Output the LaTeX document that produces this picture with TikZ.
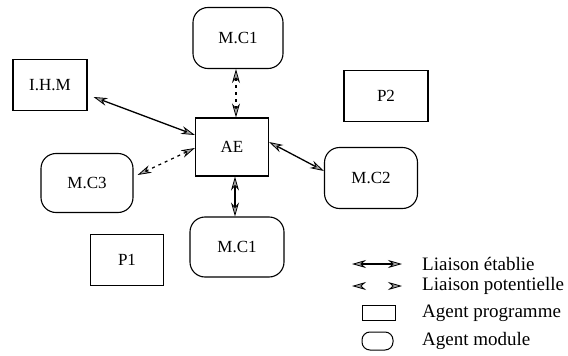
\documentclass[tikz,border=0pt]{standalone}
\usepackage{fontspec}
\setmainfont{Liberation Serif}
\usetikzlibrary{arrows.meta}
\begin{document}
\begin{tikzpicture}[x=1pt,y=-1pt,
  txt/.style={font=\fontsize{17}{19}\selectfont},
  progbox/.style={draw, line width=1.1pt, txt, inner sep=0pt},
  modbox/.style={draw, line width=1.1pt, rounded corners=15pt, txt, inner sep=0pt},
  headtip/.tip={Stealth[length=14pt,width=8pt,fill=gray!70,line width=0.8pt]},
  link/.style={line width=1.3pt, headtip-headtip},
  solidlink/.style={link},
  potlink/.style={link, line width=1.2pt, dash pattern=on 3pt off 4pt},
  legtxt/.style={font=\fontsize{19}{21}\selectfont, anchor=west, inner sep=0pt}
]
\useasboundingbox (0,0) rectangle (568,356);

% agents
\node[modbox, minimum width=90pt, minimum height=61pt] (mc1a) at (238,38) {M.C1};
\node[progbox, minimum width=74pt, minimum height=51pt] (ihm) at (50,85) {I.H.M};
\node[progbox, minimum width=73pt, minimum height=58pt] (ae) at (232,147) {AE};
\node[progbox, minimum width=84pt, minimum height=51pt] (p2) at (386,96) {P2};
\node[modbox, minimum width=92pt, minimum height=59pt] (mc3) at (87,183) {M.C3};
\node[modbox, minimum width=93pt, minimum height=61pt] (mc2) at (371,178) {M.C2};
\node[progbox, minimum width=73pt, minimum height=51pt] (p1) at (127,260) {P1};
\node[modbox, minimum width=94pt, minimum height=60pt] (mc1b) at (237,247) {M.C1};

% links between agents
\draw[solidlink] (ihm.east |- 0,97) ++(6,0) coordinate (ihmE) -- (ae.west |- 0,135);
\draw[solidlink] (ae.east |- 0,142) -- (mc2.west |- 0,171);
\draw[solidlink] (ae.south -| 235,0) -- (mc1b.north -| 235,0);
\draw[potlink] (mc1a.south -| 236,0) -- (ae.north -| 236,0);
\draw[potlink] (mc3.east |- 0,175) ++(4,0) coordinate (mc3E) -- (ae.west |- 0,148);

% legend
\coordinate (l1a) at (352,264); \coordinate (l1b) at (402,264);
\coordinate (l2a) at (352,286); \coordinate (l2b) at (402,286);
\draw[link, line width=1.1pt] (l1a) -- (l1b);
\draw[link, line width=1.1pt, dash pattern=on 0pt off 100pt] (l2a) -- (l2b);
\node[legtxt] (t1) at (422,264) {Liaison établie};
\node[legtxt] (t2) at (422,286) {Liaison potentielle};
\node[draw, line width=1pt, minimum width=33pt, minimum height=15pt, inner sep=0pt] (lp) at (378.5,313) {};
\node[draw, line width=1pt, rounded corners=8pt, minimum width=31pt, minimum height=18pt, inner sep=0pt] (lm) at (377.5,341) {};
\node[legtxt] (t3) at (422,313) {Agent programme};
\node[legtxt] (t4) at (422,341) {Agent module};
\end{tikzpicture}
\end{document}
